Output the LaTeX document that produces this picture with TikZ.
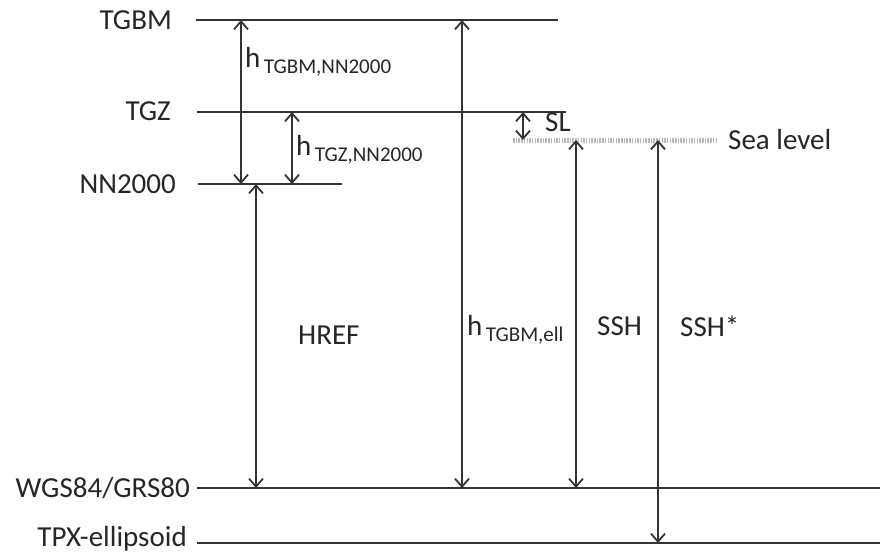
\documentclass[tikz,border=0pt]{standalone}
\usepackage{fontspec}
\setmainfont{Carlito}
\usepackage{tikz}
\usetikzlibrary{arrows.meta, positioning, calc}

\begin{document}
\begin{tikzpicture}[
  x=1pt, y=-1pt,
  lvl/.style={draw=black!80, line width=2.2pt},
  sea/.style={draw=gray!55, line width=5pt, dash pattern=on 1.5pt off 1.2pt},
  dim/.style={{Straight Barb[length=8pt,width=14pt,line width=1.8pt]}-{Straight Barb[length=8pt,width=14pt,line width=1.8pt]},
              draw=black!80, line width=1.9pt},
  lbl/.style={font=\fontsize{29}{32}\selectfont, text=black!85, inner sep=0pt},
  lname/.style={lbl, anchor=base east},
  dlbl/.style={lbl, anchor=west},
]
\useasboundingbox (0,0) rectangle (880,555);

%% ---- reference levels ----
\coordinate (tgbm)  at (196,20);   \coordinate (tgbmE) at (558,20);
\coordinate (tgz)   at (197,112);  \coordinate (tgzE)  at (566,112);
\coordinate (nn)    at (198,184);  \coordinate (nnE)   at (342,184);
\coordinate (sea)   at (513,140);  \coordinate (seaE)  at (718,140);
\coordinate (wgs)   at (197,488);  \coordinate (wgsE)  at (880,488);
\coordinate (tpx)   at (197,543);  \coordinate (tpxE)  at (880,543);

\draw[lvl] (tgbm) -- (tgbmE);
\draw[lvl] (tgz)  -- (tgzE);
\draw[lvl] (nn)   -- (nnE);
\draw[sea] (sea)  -- (seaE);
\draw[lvl] (wgs)  -- (wgsE);
\draw[lvl] (tpx)  -- (tpxE);

\node[lname] (ltgbm) at (172,29)  {TGBM};
\node[lname] (ltgz)  at (171,120) {TGZ};
\node[lname] (lnn)   at (176,193) {NN2000};
\node[lname] (lwgs)  at (190,497) {WGS84/GRS80};
\node[lname] (ltpx)  at (187,546) {TPX-ellipsoid};
\node[dlbl]  (lsea)  at (728,140) {Sea level};

%% ---- arrow columns ----
\coordinate (c1) at (241,0);
\coordinate (c2) at (292,0);
\coordinate (c3) at (256,0);
\coordinate (c4) at (462,0);
\coordinate (c5) at (523,0);
\coordinate (c6) at (576,0);
\coordinate (c7) at (658,0);

\draw[dim] (c1 |- tgbm) -- (c1 |- nn);
\draw[dim] (c2 |- tgz)  -- (c2 |- nn);
\draw[dim] (c3 |- nn)   -- (c3 |- wgs);
\draw[dim] (c4 |- tgbm) -- (c4 |- wgs);
\draw[dim] (c5 |- tgz)  -- (c5 |- sea);
\draw[dim] (c6 |- sea)  -- (c6 |- wgs);
\draw[dim] (c7 |- sea)  -- (c7 |- tpx);

%% ---- arrow labels ----
\node[dlbl] (hgbm) at (245,62)
  {h\raisebox{-0.45ex}{\fontsize{21}{23}\selectfont\,TGBM,NN2000}};
\node[dlbl] (hgz)  at (296,150)
  {h\raisebox{-0.45ex}{\fontsize{21}{23}\selectfont\,TGZ,NN2000}};
\node[dlbl] (href) at (298,335) {HREF};
\node[dlbl] (hell) at (467,330)
  {h\raisebox{-0.45ex}{\fontsize{21}{23}\selectfont\,TGBM,ell}};
\node[dlbl] (sl)   at (545,122) {SL};
\node[dlbl] (ssh)  at (597,326) {SSH};
\node[dlbl] (sshs) at (680,326) {SSH*};

\end{tikzpicture}
\end{document}
